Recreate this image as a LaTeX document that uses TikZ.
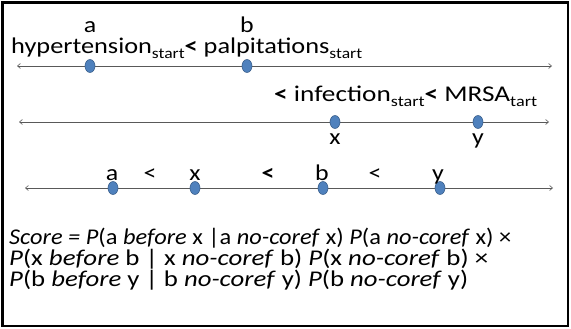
\documentclass[tikz,border=0pt]{standalone}
\usepackage{fontspec}
\usepackage{graphicx}
\setmainfont{Carlito}
\usetikzlibrary{arrows.meta,shapes.geometric}
\newcommand\subs[1]{\raisebox{-0.4ex}{\fontsize{15}{15}\selectfont #1}}
\newcommand\wide[1]{\scalebox{1.15}[1]{#1}}
\newcommand\fitw[2]{\resizebox{#1pt}{\height}{#2}}
\definecolor{dotfill}{HTML}{4F81BD}
\definecolor{dotline}{HTML}{385D8A}
\tikzset{
  axis/.style={draw=black!65, line width=0.6pt, {Straight Barb[length=3pt,width=5pt]}-{Straight Barb[length=3pt,width=5pt]}},
  dot/.style={ellipse, draw=dotline, fill=dotfill, line width=0.6pt, minimum width=10pt, minimum height=13pt, inner sep=0pt},
  lbl/.style={font=\fontsize{22.5}{22.5}\selectfont, inner sep=0pt, anchor=base},
  lblw/.style={font=\fontsize{22.5}{22.5}\selectfont, inner sep=0pt, anchor=base west},
}
\begin{document}
\begin{tikzpicture}[x=1pt,y=-1pt]
\useasboundingbox (0,0) rectangle (571,329);
\draw[line width=2.5pt] (2.5,2.5) rectangle (568,326);
% line 1
\coordinate (l1a) at (17,66);
\coordinate (l1b) at (552,66);
\draw[axis] (l1a) -- (l1b);
\node[dot] (a1) at (90,66) {};
\node[dot] (b1) at (247,66) {};
\node[lbl] (ta1) at (90,33) {\wide{a}};
\node[lbl] (tb1) at (247,33) {\wide{b}};
\node[lblw] (t1) at (11,54) {\fitw{351}{hypertension\subs{start}\textbf{<} palpitations\subs{start}}};
% line 2
\coordinate (l2a) at (19,122);
\coordinate (l2b) at (549,122);
\draw[axis] (l2a) -- (l2b);
\node[dot] (x2) at (335,122) {};
\node[dot] (y2) at (478,122) {};
\node[lbl] (tx2) at (335,145) {\wide{x}};
\node[lbl] (ty2) at (478,145) {\wide{y}};
\node[lblw] (t2) at (274,102) {\fitw{263}{\textbf{<} infection\subs{start}\textbf{<} MRSA\subs{tart}}};
% line 3
\coordinate (l3a) at (25,188);
\coordinate (l3b) at (553,188);
\draw[axis] (l3a) -- (l3b);
\node[dot] (a3) at (113,188) {};
\node[dot] (x3) at (195,188) {};
\node[dot] (b3) at (323,188) {};
\node[dot] (y3) at (440,188) {};
\node[lbl] (ta3) at (112,180) {\wide{a}};
\node[lbl] (lt1) at (150,180) {\wide{<}};
\node[lbl] (tx3) at (195,180) {\wide{x}};
\node[lbl] (lt2) at (268,180) {\wide{\textbf{<}}};
\node[lbl] (tb3) at (322,180) {\wide{b}};
\node[lbl] (lt3) at (375,180) {\wide{<}};
\node[lbl] (ty3) at (438,180) {\wide{y}};
% formula
\node[lblw] (f1) at (9,244) {\fitw{502}{\textit{Score = P}(a \textit{before} x |a \textit{no-coref} x) \textit{P}(a \textit{no-coref} x) ×}};
\node[lblw] (f2) at (9,265) {\fitw{479}{\textit{P}(x \textit{before} b | x \textit{no-coref} b) \textit{P}(x \textit{no-coref} b) ×}};
\node[lblw] (f3) at (9,286) {\fitw{459}{\textit{P}(b \textit{before} y | b \textit{no-coref} y) \textit{P}(b \textit{no-coref} y)}};
\end{tikzpicture}
\end{document}
